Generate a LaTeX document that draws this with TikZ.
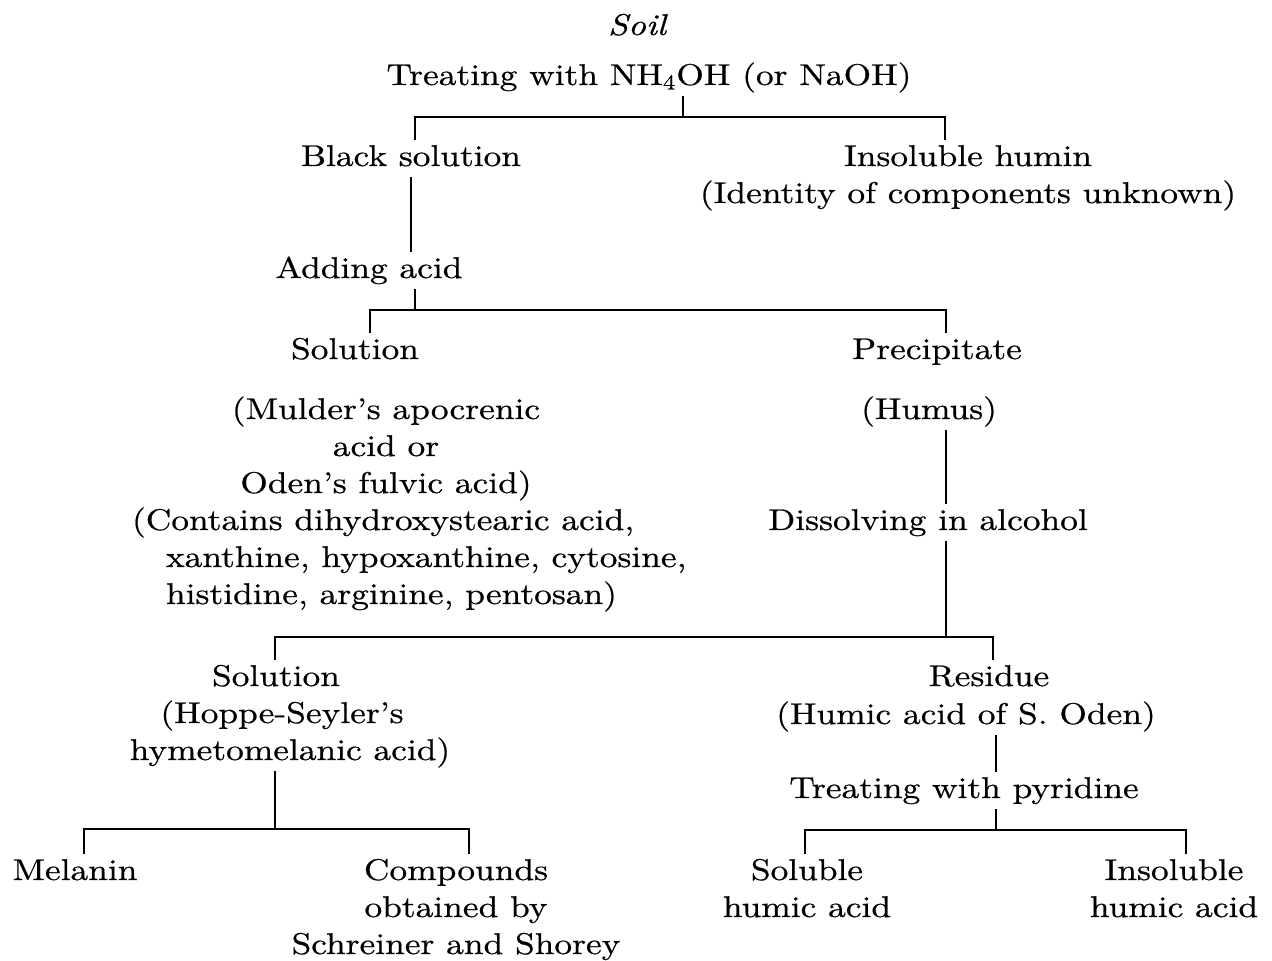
\documentclass[tikz,border=0pt]{standalone}
\usepackage{fontspec}
\setmainfont{lmroman10-regular.otf}[FakeStretch=1.18, FakeBold=0.6, ItalicFont=lmroman10-italic.otf, BoldFont=lmroman10-bold.otf]
\usetikzlibrary{calc}
\newcommand\fsz{\fontsize{15}{18.5}\selectfont}
\newcommand\tb[1]{\begin{tabular}[t]{@{}c@{}}#1\end{tabular}}
\begin{document}
\begin{tikzpicture}[x=0.5pt,y=-0.5pt,line width=1pt,
  txt/.style={inner sep=0pt,outer sep=0pt,anchor=base,font=\fsz}]
\useasboundingbox (0,0) rectangle (1272,961);
% nodes
\node[txt] (soil) at (637,35) {\tb{\itshape Soil}};
\node[txt] (treat) at (649,85) {\tb{Treating with NH\textsubscript{4}OH (or NaOH)}};
\node[txt] (black) at (411,166) {\tb{Black solution}};
\node[txt] (humin) at (968,166) {\tb{Insoluble humin\\(Identity of components unknown)}};
\node[txt] (adding) at (369,278) {\tb{Adding acid}};
\node[txt] (sol1) at (355,359) {\tb{Solution}};
\node[txt] (precip) at (937,359) {\tb{Precipitate}};
\node[txt] (mulder) at (386,419) {\tb{(Mulder’s apocrenic\\acid or\\Oden’s fulvic acid)}};
\node[txt,anchor=base west] (contains) at (132,530) {\begin{tabular}[t]{@{}l@{}}(Contains dihydroxystearic acid,\\\hspace*{17pt}xanthine, hypoxanthine, cytosine,\\\hspace*{17pt}histidine, arginine, pentosan)\end{tabular}};
\node[txt] (humus) at (929,419) {\tb{(Humus)}};
\node[txt] (dissolve) at (928,530) {\tb{Dissolving in alcohol}};
\node[txt] (sol2) at (290,686) {\tb{Solution\hspace*{14pt}\\(Hoppe-Seyler’s\hspace*{8pt}\\hymetomelanic acid)}};
\node[txt] (residue) at (989,686) {\tb{Residue}};
\node[txt] (residueb) at (966,724) {\tb{(Humic acid of S. Oden)}};
\node[txt] (pyridine) at (964,798) {\tb{Treating with pyridine}};
\node[txt] (melanin) at (75,880) {\tb{Melanin}};
\node[txt] (compounds) at (456,880) {\tb{Compounds\\obtained by\\Schreiner and Shorey}};
\node[txt] (soluble) at (807,880) {\tb{Soluble\\humic acid}};
\node[txt] (insoluble) at (1174,880) {\tb{Insoluble\\humic acid}};
% junctions
\coordinate (j1) at (683,117);
\coordinate (j2) at (415,310);
\coordinate (j3) at (946,637);
\coordinate (j4) at (996,830);
\coordinate (j5) at (275,829);
% connectors
\draw (j1 |- treat.south) -- (j1);
\draw ($(black.north)+(4,0)$) |- (j1) -| ($(humin.north)+(-23,0)$);
\draw (black.south) -- (black.south |- adding.north);
\draw (j2 |- adding.south) -- (j2);
\draw ($(sol1.north)+(15,0)$) |- (j2) -| ($(precip.north)+(9,0)$);
\draw (j3 |- humus.south) -- (j3 |- dissolve.north);
\draw (j3 |- dissolve.south) -- (j3);
\draw ($(sol2.north)+(-15,0)$) |- (j3) -| ($(residue.north)+(4,0)$);
\draw (j4 |- residueb.south) -- (j4 |- pyridine.north);
\draw (j4 |- pyridine.south) -- (j4);
\draw ($(soluble.north)+(-2,0)$) |- (j4) -| ($(insoluble.north)+(12,0)$);
\draw (j5 |- sol2.south) -- (j5);
\draw ($(melanin.north)+(9,0)$) |- (j5) -| ($(compounds.north)+(13,0)$);
\end{tikzpicture}
\end{document}
